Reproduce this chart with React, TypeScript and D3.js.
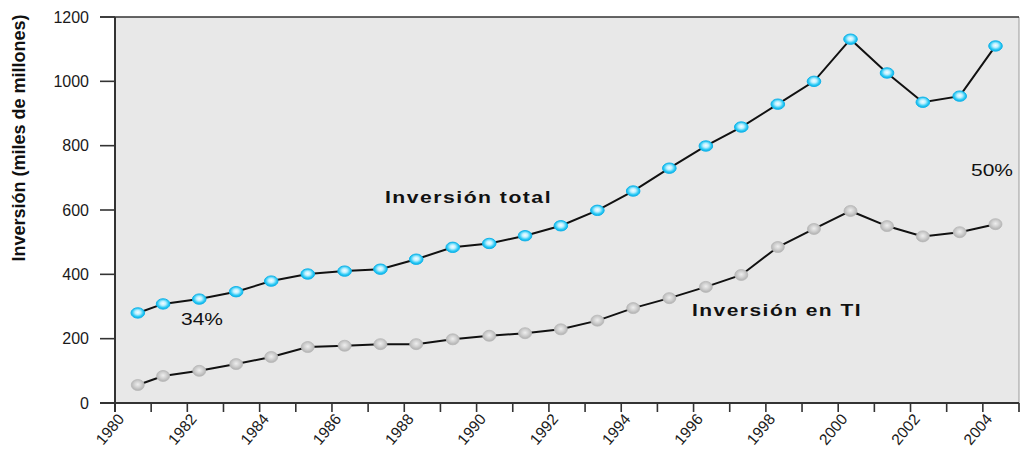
import React from "react";
import * as d3 from "d3";

// Positions on the time axis (decimal years) for each observation
const years = [
  1980.63, 1981.33, 1982.33, 1983.35, 1984.32, 1985.33, 1986.35, 1987.34,
  1988.33, 1989.34, 1990.35, 1991.34, 1992.33, 1993.34, 1994.33, 1995.33,
  1996.34, 1997.32, 1998.33, 1999.33, 2000.34, 2001.35, 2002.34, 2003.36,
  2004.35,
];

// Total investment (thousand millions)
const inversionTotal = [
  280, 308, 323, 346, 379, 401, 410, 416, 447, 484, 496, 520, 551, 599, 659,
  730, 799, 858, 929, 1000, 1131, 1026, 935, 954, 1110,
];

// IT investment (thousand millions)
const inversionTI = [
  56, 84, 100, 121, 143, 174, 178, 183, 183, 198, 209, 217, 229, 256, 295,
  326, 361, 398, 485, 541, 597, 550, 518, 531, 556,
];

const yTicks = [0, 200, 400, 600, 800, 1000, 1200];
const xLabelYears = [1980, 1982, 1984, 1986, 1988, 1990, 1992, 1994, 1996, 1998, 2000, 2002, 2004];
const xMinorYears = d3.range(1980, 2006);

const W = 1020;
const H = 449;
const FONT = "'Liberation Sans', Arial, Helvetica, sans-serif";

// Text drawn with slightly widened glyphs to a fixed length
function WideText(props: {
  x: number;
  y: number;
  len: number;
  size: number;
  bold?: boolean;
  spacing?: number;
  children: string;
}) {
  const { x, y, len, size, bold, spacing = 0, children } = props;
  return (
    <text
      x={x}
      y={y}
      fontFamily={FONT}
      fontWeight={bold ? "bold" : "normal"}
      fontSize={size}
      fill="#111"
      letterSpacing={spacing}
      textLength={len}
      lengthAdjust="spacingAndGlyphs"
    >
      {children}
    </text>
  );
}

export default function App() {
  const x = d3.scaleLinear().domain([1980, 2005]).range([115, 1019]);
  const y = d3.scaleLinear().domain([0, 1200]).range([403, 17]);

  const line = d3
    .line<number>()
    .x((_, i) => x(years[i]))
    .y((d) => y(d));

  const [x0, x1] = x.range();
  const [yb, yt] = y.range();

  return (
    <div style={{ position: "absolute", left: 0, top: 0 }}>
      <svg width={W} height={H} style={{ display: "block", background: "#fff" }}>
        <defs>
          <radialGradient id="gBlue" cx="50%" cy="45%" r="55%">
            <stop offset="0%" stopColor="#f4fdff" />
            <stop offset="35%" stopColor="#bff0ff" />
            <stop offset="75%" stopColor="#26c8f4" />
            <stop offset="100%" stopColor="#14b6ea" />
          </radialGradient>
          <radialGradient id="gGray" cx="50%" cy="45%" r="55%">
            <stop offset="0%" stopColor="#eeeeee" />
            <stop offset="45%" stopColor="#d4d4d4" />
            <stop offset="100%" stopColor="#b0b0b0" />
          </radialGradient>
        </defs>

        {/* plot background */}
        <rect x={x0} y={yt} width={x1 - x0} height={yb - yt} fill="#e8e8e8" />
        <line x1={x1} x2={x1} y1={yt} y2={yb + 9} stroke="#9a9a9a" strokeWidth={1} />
        <line x1={100} x2={x1} y1={yt} y2={yt} stroke="#333" strokeWidth={1.6} />

        {/* y axis */}
        <line x1={x0} x2={x0} y1={yt} y2={yb + 9} stroke="#333" strokeWidth={2} />
        {yTicks.map((t) => (
          <g key={t}>
            <line x1={100} x2={x0} y1={y(t)} y2={y(t)} stroke="#333" strokeWidth={1.6} />
            <text
              x={89}
              y={y(t)}
              dy="0.36em"
              textAnchor="end"
              fontFamily={FONT}
              fontSize={16}
              fill="#1a1a1a"
            >
              {t}
            </text>
          </g>
        ))}

        {/* x axis */}
        <line x1={100} x2={x1} y1={yb} y2={yb} stroke="#333" strokeWidth={2} />
        {xMinorYears.map((yr) => (
          <line key={yr} x1={x(yr)} x2={x(yr)} y1={yb} y2={yb + 9} stroke="#333" strokeWidth={1.6} />
        ))}
        {xLabelYears.map((yr) => (
          <text
            key={yr}
            transform={`translate(${x(yr) + 6},${yb + 13}) rotate(-50)`}
            textAnchor="end"
            dy="0.35em"
            fontFamily={FONT}
            fontSize={15.5}
            fill="#1a1a1a"
          >
            {yr}
          </text>
        ))}

        {/* y axis title */}
        <text
          transform={`translate(25,138) rotate(-90)`}
          textAnchor="middle"
          fontFamily={FONT}
          fontWeight="bold"
          fontSize={18}
          fill="#111"
        >
          Inversión (miles de millones)
        </text>

        {/* series lines */}
        <path d={line(inversionTotal) || ""} fill="none" stroke="#111" strokeWidth={2} />
        <path d={line(inversionTI) || ""} fill="none" stroke="#111" strokeWidth={2} />

        {/* markers */}
        {inversionTI.map((v, i) => (
          <ellipse key={`g${i}`} cx={x(years[i])} cy={y(v)} rx={6.5} ry={5.5} fill="url(#gGray)" stroke="#b8b8b8" strokeWidth={0.8} />
        ))}
        {inversionTotal.map((v, i) => (
          <ellipse key={`b${i}`} cx={x(years[i])} cy={y(v)} rx={6.8} ry={5.2} fill="url(#gBlue)" stroke="#12b2e8" strokeWidth={1} />
        ))}

        {/* annotations */}
        <WideText x={385} y={203} len={167} size={17} bold spacing={1.2}>
          Inversión total
        </WideText>
        <WideText x={692} y={316} len={170} size={17} bold spacing={1.2}>
          Inversión en TI
        </WideText>
        <WideText x={181} y={325} len={42} size={17}>
          34%
        </WideText>
        <WideText x={971} y={176} len={42} size={17}>
          50%
        </WideText>
      </svg>
    </div>
  );
}
